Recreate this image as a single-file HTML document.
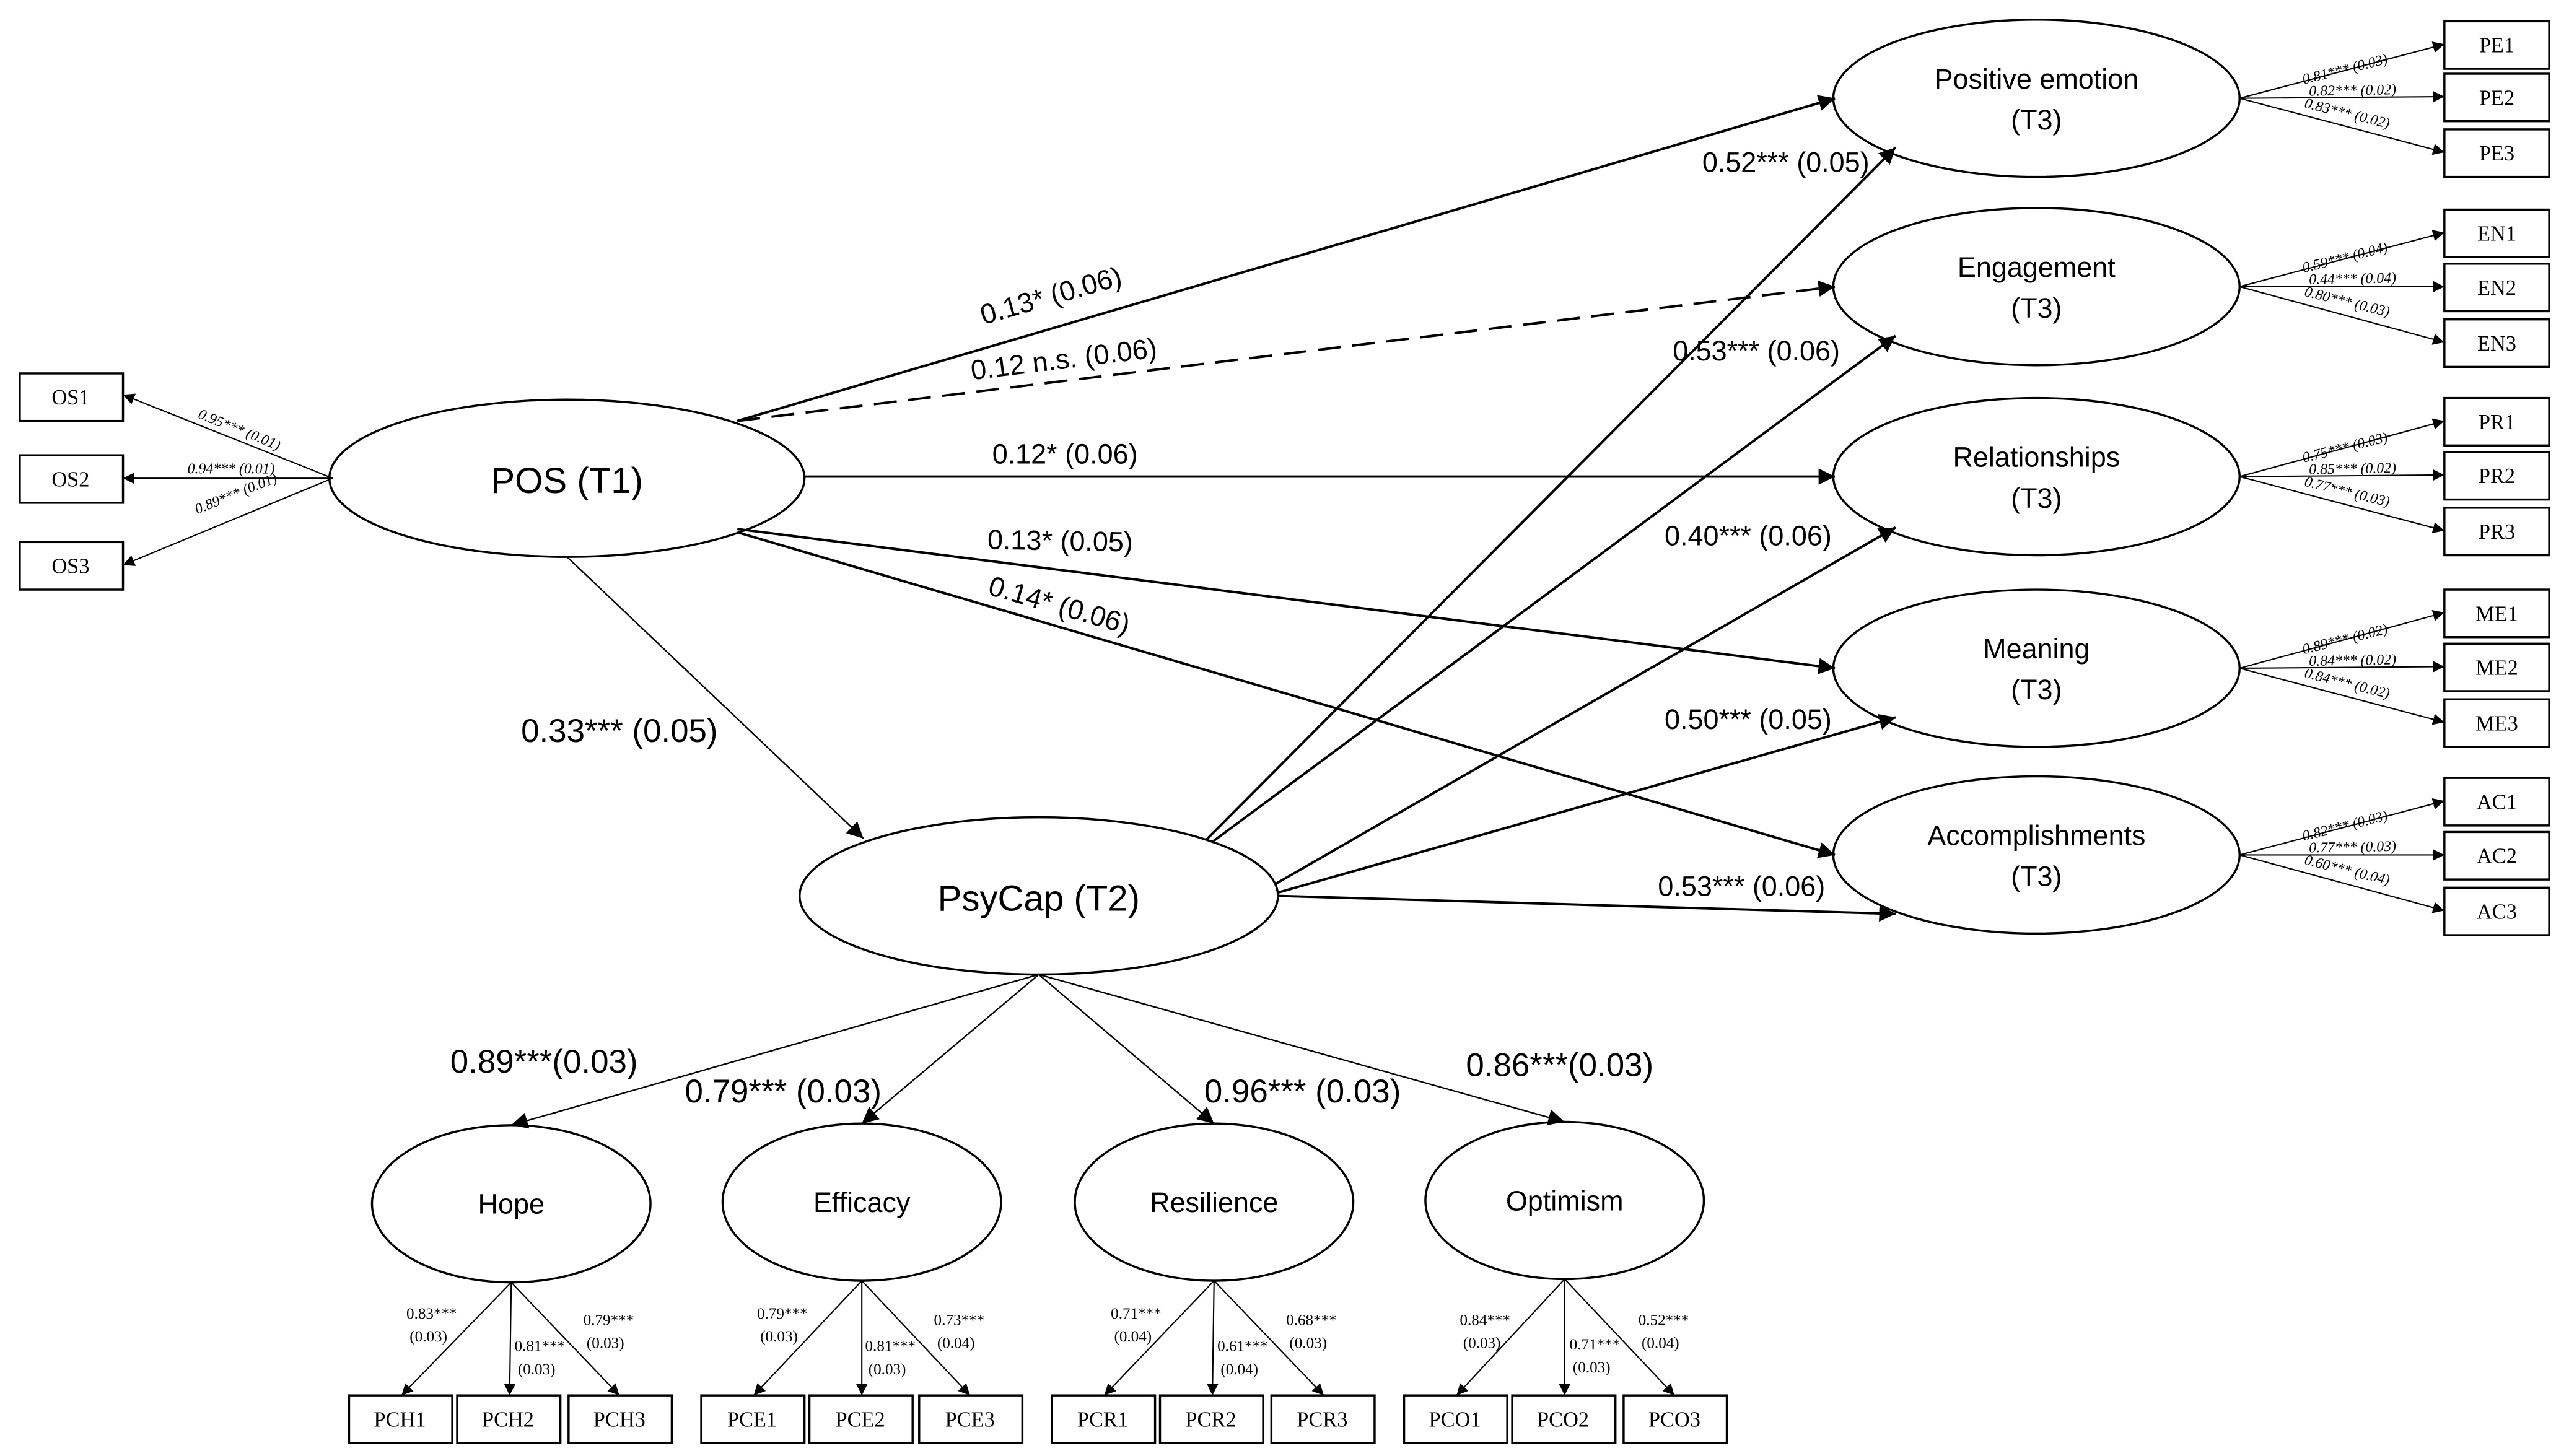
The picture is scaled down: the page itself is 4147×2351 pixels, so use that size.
<!DOCTYPE html>
<html><head><meta charset="utf-8"><style>
html,body{margin:0;padding:0;background:#fff;}
svg{display:block;}
.s{font-family:"Liberation Sans",sans-serif;fill:#000;}
.r{font-family:"Liberation Serif",serif;fill:#000;}
</style></head><body>
<svg width="4147" height="2351" viewBox="0 0 1568 889" xmlns="http://www.w3.org/2000/svg">
<defs>
<marker id="a" viewBox="0 0 10 10" refX="10" refY="5" markerWidth="7" markerHeight="7" orient="auto" markerUnits="userSpaceOnUse">
<path d="M0,0 L10,5 L0,10 z" fill="#000"/></marker>
<marker id="b" viewBox="0 0 10 10" refX="10" refY="5" markerWidth="10" markerHeight="10" orient="auto" markerUnits="userSpaceOnUse">
<path d="M0,0 L10,5 L0,10 z" fill="#000"/></marker>
</defs>
<g fill="none" stroke="#000">
<!-- ellipses -->
<ellipse cx="346" cy="292" rx="145" ry="48" stroke-width="1.3"/>
<ellipse cx="634" cy="547" rx="146" ry="48" stroke-width="1.3"/>
<ellipse cx="1243" cy="60" rx="124" ry="48" stroke-width="1.3"/>
<ellipse cx="1243" cy="175" rx="124" ry="48" stroke-width="1.3"/>
<ellipse cx="1243" cy="291" rx="124" ry="48" stroke-width="1.3"/>
<ellipse cx="1243" cy="408" rx="124" ry="48" stroke-width="1.3"/>
<ellipse cx="1243" cy="522" rx="124" ry="48" stroke-width="1.3"/>
<ellipse cx="312" cy="735" rx="85" ry="48" stroke-width="1.3"/>
<ellipse cx="526" cy="734" rx="85" ry="48" stroke-width="1.3"/>
<ellipse cx="741" cy="734" rx="85" ry="48" stroke-width="1.3"/>
<ellipse cx="955" cy="733" rx="85" ry="48" stroke-width="1.3"/>
<!-- boxes -->
<g stroke-width="1.3">
<rect x="12" y="228" width="63" height="29"/><rect x="12" y="278" width="63" height="29"/><rect x="12" y="331" width="63" height="29"/>
<rect x="1492" y="13" width="64" height="29"/><rect x="1492" y="45" width="64" height="29"/><rect x="1492" y="79" width="64" height="29"/>
<rect x="1492" y="128" width="64" height="29"/><rect x="1492" y="161" width="64" height="29"/><rect x="1492" y="195" width="64" height="29"/>
<rect x="1492" y="243" width="64" height="29"/><rect x="1492" y="276" width="64" height="29"/><rect x="1492" y="310" width="64" height="29"/>
<rect x="1492" y="360" width="64" height="29"/><rect x="1492" y="393" width="64" height="29"/><rect x="1492" y="427" width="64" height="29"/>
<rect x="1492" y="475" width="64" height="29"/><rect x="1492" y="508" width="64" height="29"/><rect x="1492" y="542" width="64" height="29"/>
<rect x="213" y="852" width="63" height="29"/><rect x="279" y="852" width="63" height="29"/><rect x="347" y="852" width="63" height="29"/>
<rect x="428" y="852" width="63" height="29"/><rect x="494" y="852" width="63" height="29"/><rect x="561" y="852" width="63" height="29"/>
<rect x="642" y="852" width="63" height="29"/><rect x="708" y="852" width="63" height="29"/><rect x="776" y="852" width="63" height="29"/>
<rect x="857" y="852" width="63" height="29"/><rect x="923" y="852" width="63" height="29"/><rect x="991" y="852" width="63" height="29"/>
</g>
<!-- POS to OS -->
<g stroke-width="0.8" marker-end="url(#a)">
<line x1="203" y1="292" x2="75" y2="241"/><line x1="203" y1="292" x2="75" y2="292"/><line x1="203" y1="292" x2="75" y2="345"/>
</g>
<!-- structural -->
<g stroke-width="1.5" marker-end="url(#b)">
<line x1="450" y1="257" x2="1120" y2="60"/>
<line x1="450" y1="257" x2="1120" y2="175" stroke-dasharray="14,7"/>
<line x1="491" y1="291" x2="1120" y2="291"/>
<line x1="450" y1="323" x2="1120" y2="408"/>
<line x1="450" y1="325" x2="1120" y2="522"/>
<line x1="736" y1="513" x2="1157" y2="90"/>
<line x1="740" y1="514" x2="1157" y2="205"/>
<line x1="778" y1="540" x2="1157" y2="322"/>
<line x1="780" y1="545" x2="1157" y2="438"/>
<line x1="780" y1="547" x2="1157" y2="558"/>
</g>
<g stroke-width="0.9" marker-end="url(#b)">
<line x1="346" y1="340" x2="527" y2="512"/>
<line x1="634" y1="595" x2="312" y2="687"/>
<line x1="634" y1="595" x2="526" y2="686"/>
<line x1="634" y1="595" x2="741" y2="686"/>
<line x1="634" y1="595" x2="955" y2="685"/>
</g>
<!-- right indicators -->
<g stroke-width="0.8" marker-end="url(#a)">
<line x1="1367" y1="60" x2="1492" y2="27"/><line x1="1367" y1="60" x2="1492" y2="59"/><line x1="1367" y1="60" x2="1492" y2="93"/>
<line x1="1367" y1="175" x2="1492" y2="142"/><line x1="1367" y1="175" x2="1492" y2="175"/><line x1="1367" y1="175" x2="1492" y2="209"/>
<line x1="1367" y1="291" x2="1492" y2="257"/><line x1="1367" y1="291" x2="1492" y2="290"/><line x1="1367" y1="291" x2="1492" y2="324"/>
<line x1="1367" y1="408" x2="1492" y2="374"/><line x1="1367" y1="408" x2="1492" y2="407"/><line x1="1367" y1="408" x2="1492" y2="441"/>
<line x1="1367" y1="522" x2="1492" y2="489"/><line x1="1367" y1="522" x2="1492" y2="522"/><line x1="1367" y1="522" x2="1492" y2="556"/>
<!-- bottom indicators -->
<line x1="312" y1="783" x2="245" y2="852"/><line x1="312" y1="783" x2="311" y2="852"/><line x1="312" y1="783" x2="378" y2="852"/>
<line x1="526" y1="782" x2="460" y2="852"/><line x1="526" y1="782" x2="526" y2="852"/><line x1="526" y1="782" x2="592" y2="852"/>
<line x1="741" y1="782" x2="674" y2="852"/><line x1="741" y1="782" x2="740" y2="852"/><line x1="741" y1="782" x2="808" y2="852"/>
<line x1="955" y1="781" x2="889" y2="852"/><line x1="955" y1="781" x2="955" y2="852"/><line x1="955" y1="781" x2="1022" y2="852"/>
</g>
</g>
<!-- ellipse labels -->
<g class="s" text-anchor="middle">
<text x="346" y="301" font-size="22">POS (T1)</text>
<text x="634" y="556" font-size="22">PsyCap (T2)</text>
<g font-size="17">
<text x="1243" y="54">Positive emotion</text><text x="1243" y="79">(T3)</text>
<text x="1243" y="169">Engagement</text><text x="1243" y="194">(T3)</text>
<text x="1243" y="285">Relationships</text><text x="1243" y="310">(T3)</text>
<text x="1243" y="402">Meaning</text><text x="1243" y="427">(T3)</text>
<text x="1243" y="516">Accomplishments</text><text x="1243" y="541">(T3)</text>
<text x="312" y="741">Hope</text><text x="526" y="740">Efficacy</text><text x="741" y="740">Resilience</text><text x="955" y="739">Optimism</text>
</g>
</g>
<!-- box labels -->
<g class="r" text-anchor="middle" font-size="13">
<text x="43" y="247">OS1</text><text x="43" y="297">OS2</text><text x="43" y="350">OS3</text>
<text x="1524" y="32">PE1</text><text x="1524" y="64">PE2</text><text x="1524" y="98">PE3</text>
<text x="1524" y="147">EN1</text><text x="1524" y="180">EN2</text><text x="1524" y="214">EN3</text>
<text x="1524" y="262">PR1</text><text x="1524" y="295">PR2</text><text x="1524" y="329">PR3</text>
<text x="1524" y="379">ME1</text><text x="1524" y="412">ME2</text><text x="1524" y="446">ME3</text>
<text x="1524" y="494">AC1</text><text x="1524" y="527">AC2</text><text x="1524" y="561">AC3</text>
<text x="244" y="871">PCH1</text><text x="310" y="871">PCH2</text><text x="378" y="871">PCH3</text>
<text x="459" y="871">PCE1</text><text x="525" y="871">PCE2</text><text x="592" y="871">PCE3</text>
<text x="673" y="871">PCR1</text><text x="739" y="871">PCR2</text><text x="807" y="871">PCR3</text>
<text x="888" y="871">PCO1</text><text x="954" y="871">PCO2</text><text x="1022" y="871">PCO3</text>
</g>
<!-- path labels -->
<g class="s" font-size="17" text-anchor="middle">
<text transform="translate(643,186) rotate(-16)">0.13* (0.06)</text>
<text transform="translate(650,225) rotate(-7)">0.12 n.s. (0.06)</text>
<text x="650" y="283">0.12* (0.06)</text>
<text transform="translate(647,336) rotate(1)">0.13* (0.05)</text>
<text transform="translate(645,375) rotate(16)">0.14* (0.06)</text>
<text x="1090" y="105">0.52*** (0.05)</text>
<text x="1072" y="220">0.53*** (0.06)</text>
<text x="1067" y="333">0.40*** (0.06)</text>
<text x="1067" y="445">0.50*** (0.05)</text>
<text x="1063" y="547">0.53*** (0.06)</text>
</g>
<g class="s" font-size="20" text-anchor="middle">
<text x="378" y="453">0.33*** (0.05)</text>
<text x="332" y="655">0.89***(0.03)</text>
<text x="478" y="673">0.79*** (0.03)</text>
<text x="795" y="673">0.96*** (0.03)</text>
<text x="952" y="657">0.86***(0.03)</text>
</g>
<!-- small loadings -->
<g class="r" font-size="9" font-style="italic" text-anchor="middle">
<text transform="translate(145,265) rotate(22)">0.95*** (0.01)</text>
<text x="141" y="289">0.94*** (0.01)</text>
<text transform="translate(145,304) rotate(-22)">0.89*** (0.01)</text>
<g id="rl">
<text transform="translate(1432,45) rotate(-14)">0.81*** (0.03)</text>
<text transform="translate(1436,58) rotate(-1)">0.82*** (0.02)</text>
<text transform="translate(1432,72) rotate(14)">0.83*** (0.02)</text>
<text transform="translate(1432,160) rotate(-14)">0.59*** (0.04)</text>
<text transform="translate(1436,173) rotate(-1)">0.44*** (0.04)</text>
<text transform="translate(1432,187) rotate(14)">0.80*** (0.03)</text>
<text transform="translate(1432,276) rotate(-14)">0.75*** (0.03)</text>
<text transform="translate(1436,289) rotate(-1)">0.85*** (0.02)</text>
<text transform="translate(1432,303) rotate(14)">0.77*** (0.03)</text>
<text transform="translate(1432,393) rotate(-14)">0.89*** (0.02)</text>
<text transform="translate(1436,406) rotate(-1)">0.84*** (0.02)</text>
<text transform="translate(1432,420) rotate(14)">0.84*** (0.02)</text>
<text transform="translate(1432,507) rotate(-14)">0.82*** (0.03)</text>
<text transform="translate(1436,520) rotate(-1)">0.77*** (0.03)</text>
<text transform="translate(1432,534) rotate(14)">0.60*** (0.04)</text>
</g>
</g>
<g class="r" font-size="9.5">
<text x="248" y="805">0.83***</text><text x="250" y="819">(0.03)</text>
<text x="314" y="825">0.81***</text><text x="316" y="839">(0.03)</text>
<text x="356" y="809">0.79***</text><text x="358" y="823">(0.03)</text>
<text x="462" y="805">0.79***</text><text x="464" y="819">(0.03)</text>
<text x="528" y="825">0.81***</text><text x="530" y="839">(0.03)</text>
<text x="570" y="809">0.73***</text><text x="572" y="823">(0.04)</text>
<text x="678" y="805">0.71***</text><text x="680" y="819">(0.04)</text>
<text x="743" y="825">0.61***</text><text x="745" y="839">(0.04)</text>
<text x="785" y="809">0.68***</text><text x="787" y="823">(0.03)</text>
<text x="891" y="809">0.84***</text><text x="893" y="823">(0.03)</text>
<text x="958" y="824">0.71***</text><text x="960" y="838">(0.03)</text>
<text x="1000" y="809">0.52***</text><text x="1002" y="823">(0.04)</text>
</g>
</svg>
</body></html>
